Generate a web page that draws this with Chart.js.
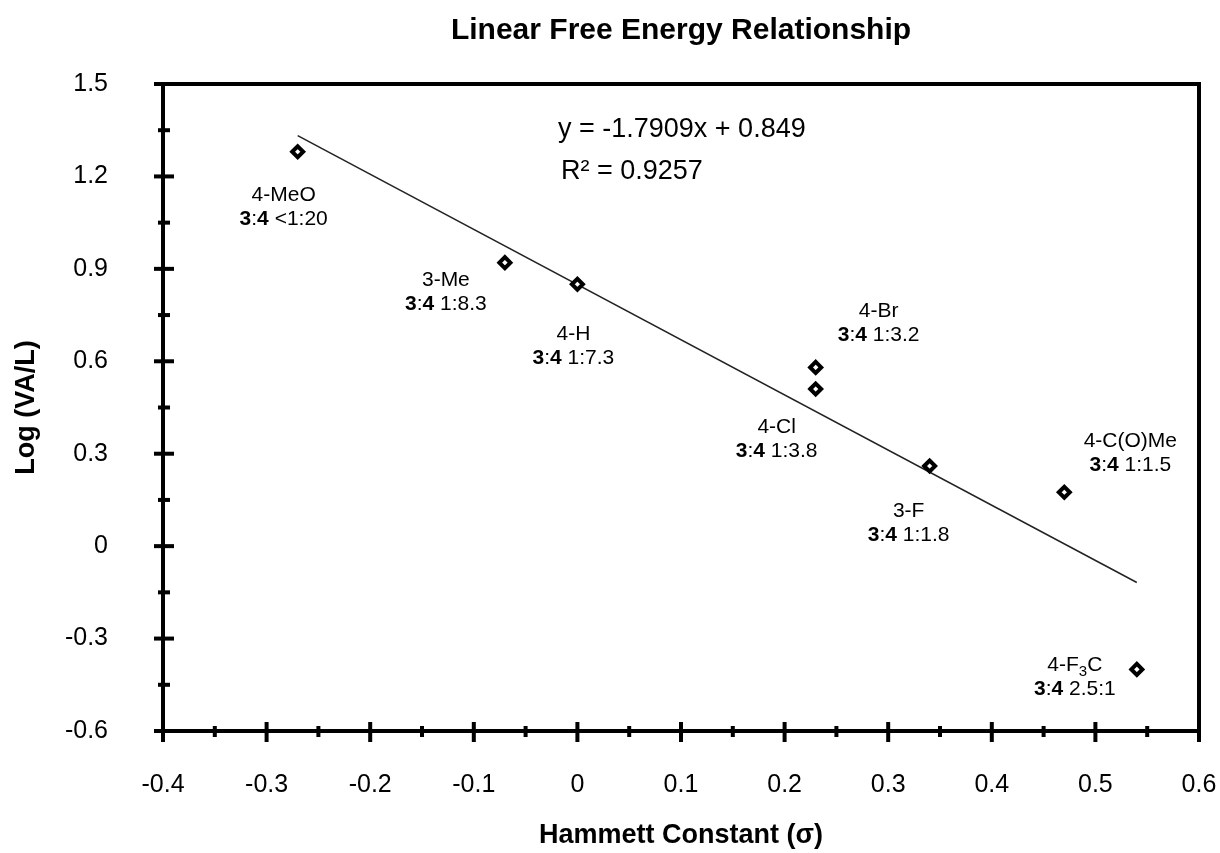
<!DOCTYPE html>
<html>
<head>
<meta charset="utf-8">
<script src="https://cdn.jsdelivr.net/npm/chart.js@4.4.1/dist/chart.umd.min.js"></script>
<style>
  html, body { margin: 0; padding: 0; background: #fff; }
  #wrap { width: 1220px; height: 853px; position: relative; }
</style>
</head>
<body>
<div id="wrap"><canvas id="myChart"></canvas></div>
<script>
// data
const sigma = [-0.27, -0.07, 0, 0.23, 0.23, 0.34, 0.47, 0.54];
const logVAL = [1.28, 0.92, 0.85, 0.58, 0.51, 0.26, 0.175, -0.40];
const substituents = ['4-MeO', '3-Me', '4-H', '4-Br', '4-Cl', '3-F', '4-C(O)Me', '4-F_3C'];
const ratios = ['<1:20', '1:8.3', '1:7.3', '1:3.2', '1:3.8', '1:1.8', '1:1.5', '2.5:1'];
const slope = -1.7909;
const intercept = 0.849;
const rSquared = 0.9257;
const fitRange = [-0.27, 0.54];
const xTicks = [-0.4, -0.3, -0.2, -0.1, 0, 0.1, 0.2, 0.3, 0.4, 0.5, 0.6];
const yTicks = [-0.6, -0.3, 0, 0.3, 0.6, 0.9, 1.2, 1.5];
const chartTitle = 'Linear Free Energy Relationship';

// where each label block sits relative to its point (px)
const labelOffsets = [[-14, 55], [-59, 30], [-4, 62], [63, -44], [-39, 50], [-21, 57], [66, -39], [-62, 8]];

const FONT = '"Liberation Sans", Arial, Helvetica, sans-serif';

const fitLine = fitRange.map(x => ({ x: x, y: slope * x + intercept }));

const framePlugin = {
    id: 'frame',
    afterDraw(chart) {
        const { ctx, chartArea: a, scales } = chart;
        const xs = scales.x, ys = scales.y;
        ctx.save();
        ctx.strokeStyle = '#000';
        ctx.lineWidth = 4;
        ctx.strokeRect(a.left, a.top, a.right - a.left, a.bottom - a.top);
        ctx.fillStyle = '#000';
        // major ticks cross the frame, minor ones halfway between
        for (let i = 0; i < xTicks.length; i++) {
            const px = xs.getPixelForValue(xTicks[i]);
            ctx.fillRect(px - 2, a.bottom - 9, 4, 20);
            if (i < xTicks.length - 1) {
                const mx = xs.getPixelForValue((xTicks[i] + xTicks[i + 1]) / 2);
                ctx.fillRect(mx - 2, a.bottom - 5, 4, 11);
            }
        }
        for (let i = 0; i < yTicks.length; i++) {
            const py = ys.getPixelForValue(yTicks[i]);
            ctx.fillRect(a.left - 9, py - 2, 20, 4);
            if (i < yTicks.length - 1) {
                const my = ys.getPixelForValue((yTicks[i] + yTicks[i + 1]) / 2);
                ctx.fillRect(a.left - 5, my - 2, 12, 4);
            }
        }
        // title centred over the plot area
        ctx.textAlign = 'center';
        ctx.textBaseline = 'middle';
        ctx.font = 'bold 30px ' + FONT;
        ctx.fillText(chartTitle, (a.left + a.right) / 2, 31);
        ctx.restore();
    }
};

function drawName(ctx, text, cx, cy) {
    // "_x" means x is a subscript
    const parts = [];
    let i = 0;
    while (i < text.length) {
        if (text[i] === '_') { parts.push({ t: text[i + 1], sub: true }); i += 2; }
        else {
            let j = i;
            while (j < text.length && text[j] !== '_') j++;
            parts.push({ t: text.slice(i, j), sub: false });
            i = j;
        }
    }
    const big = '21px ' + FONT, small = '15px ' + FONT;
    let w = 0;
    parts.forEach(p => { ctx.font = p.sub ? small : big; p.w = ctx.measureText(p.t).width; w += p.w; });
    let x = cx - w / 2;
    parts.forEach(p => {
        ctx.font = p.sub ? small : big;
        ctx.fillText(p.t, x, p.sub ? cy + 6 : cy);
        x += p.w;
    });
}

function drawRatio(ctx, ratio, cx, cy) {
    const parts = [
        { t: '3', f: 'bold 21px ' + FONT },
        { t: ':', f: '21px ' + FONT },
        { t: '4', f: 'bold 21px ' + FONT },
        { t: ' ' + ratio, f: '21px ' + FONT }
    ];
    let w = 0;
    parts.forEach(p => { ctx.font = p.f; p.w = ctx.measureText(p.t).width; w += p.w; });
    let x = cx - w / 2;
    parts.forEach(p => { ctx.font = p.f; ctx.fillText(p.t, x, cy); x += p.w; });
}

const labelPlugin = {
    id: 'pointLabels',
    afterDatasetsDraw(chart) {
        const { ctx, scales } = chart;
        ctx.save();
        ctx.fillStyle = '#000';
        ctx.textAlign = 'left';
        ctx.textBaseline = 'middle';
        for (let i = 0; i < sigma.length; i++) {
            const px = scales.x.getPixelForValue(sigma[i]) + labelOffsets[i][0];
            const py = scales.y.getPixelForValue(logVAL[i]) + labelOffsets[i][1];
            drawName(ctx, substituents[i], px, py - 12);
            drawRatio(ctx, ratios[i], px, py + 12);
        }
        // regression equation
        ctx.font = '27px ' + FONT;
        ctx.fillText('y = ' + slope + 'x + ' + intercept, 558, 130);
        ctx.fillText('R\u00B2 = ' + rSquared, 561, 172);
        ctx.restore();
    }
};

const ctx = document.getElementById('myChart').getContext('2d');
const myChart = new Chart(ctx, {
    type: 'scatter',
    data: {
        datasets: [{
            label: 'Log (VA/L)',
            data: sigma.map((x, i) => ({ x: x, y: logVAL[i] })),
            pointStyle: 'rectRot',
            pointRadius: 5.5,
            pointBorderWidth: 4,
            borderColor: '#000',
            backgroundColor: '#fff',
            showLine: false
        }, {
            label: 'Linear fit',
            type: 'line',
            data: fitLine,
            borderColor: '#222',
            borderWidth: 1.5,
            pointRadius: 0,
            fill: false
        }]
    },
    options: {
        responsive: true,
        maintainAspectRatio: false,
        animation: false,
        layout: { padding: { top: 84, left: 0, right: 21, bottom: 0 } },
        plugins: {
            legend: { display: false },
            tooltip: { enabled: false },
            title: { display: false }
        },
        scales: {
            x: {
                type: 'linear',
                min: -0.4,
                max: 0.6,
                afterBuildTicks: s => { s.ticks = xTicks.map(v => ({ value: v })); },
                afterFit: s => { s.height = 122; s.paddingLeft = 0; s.paddingRight = 0; },
                grid: { display: false },
                border: { display: false },
                ticks: {
                    color: '#000',
                    padding: 31,
                    maxRotation: 0,
                    font: { family: FONT, size: 25 },
                    callback: v => String(Math.round(v * 10) / 10)
                },
                title: {
                    display: true,
                    text: 'Hammett Constant (\u03C3)',
                    color: '#000',
                    font: { family: FONT, size: 27, weight: 'bold' },
                    padding: { top: 4, bottom: 1 }
                }
            },
            y: {
                type: 'linear',
                min: -0.6,
                max: 1.5,
                afterBuildTicks: s => { s.ticks = yTicks.map(v => ({ value: v })); },
                afterFit: s => { s.width = 163; s.paddingTop = 0; s.paddingBottom = 0; },
                grid: { display: false },
                border: { display: false },
                ticks: {
                    color: '#000',
                    padding: 47,
                    font: { family: FONT, size: 25 },
                    callback: v => String(Math.round(v * 10) / 10)
                },
                title: {
                    display: true,
                    text: 'Log (VA/L)',
                    color: '#000',
                    font: { family: FONT, size: 27, weight: 'bold' },
                    padding: { top: 10, bottom: 0 }
                }
            }
        }
    },
    plugins: [framePlugin, labelPlugin]
});
</script>
</body>
</html>
